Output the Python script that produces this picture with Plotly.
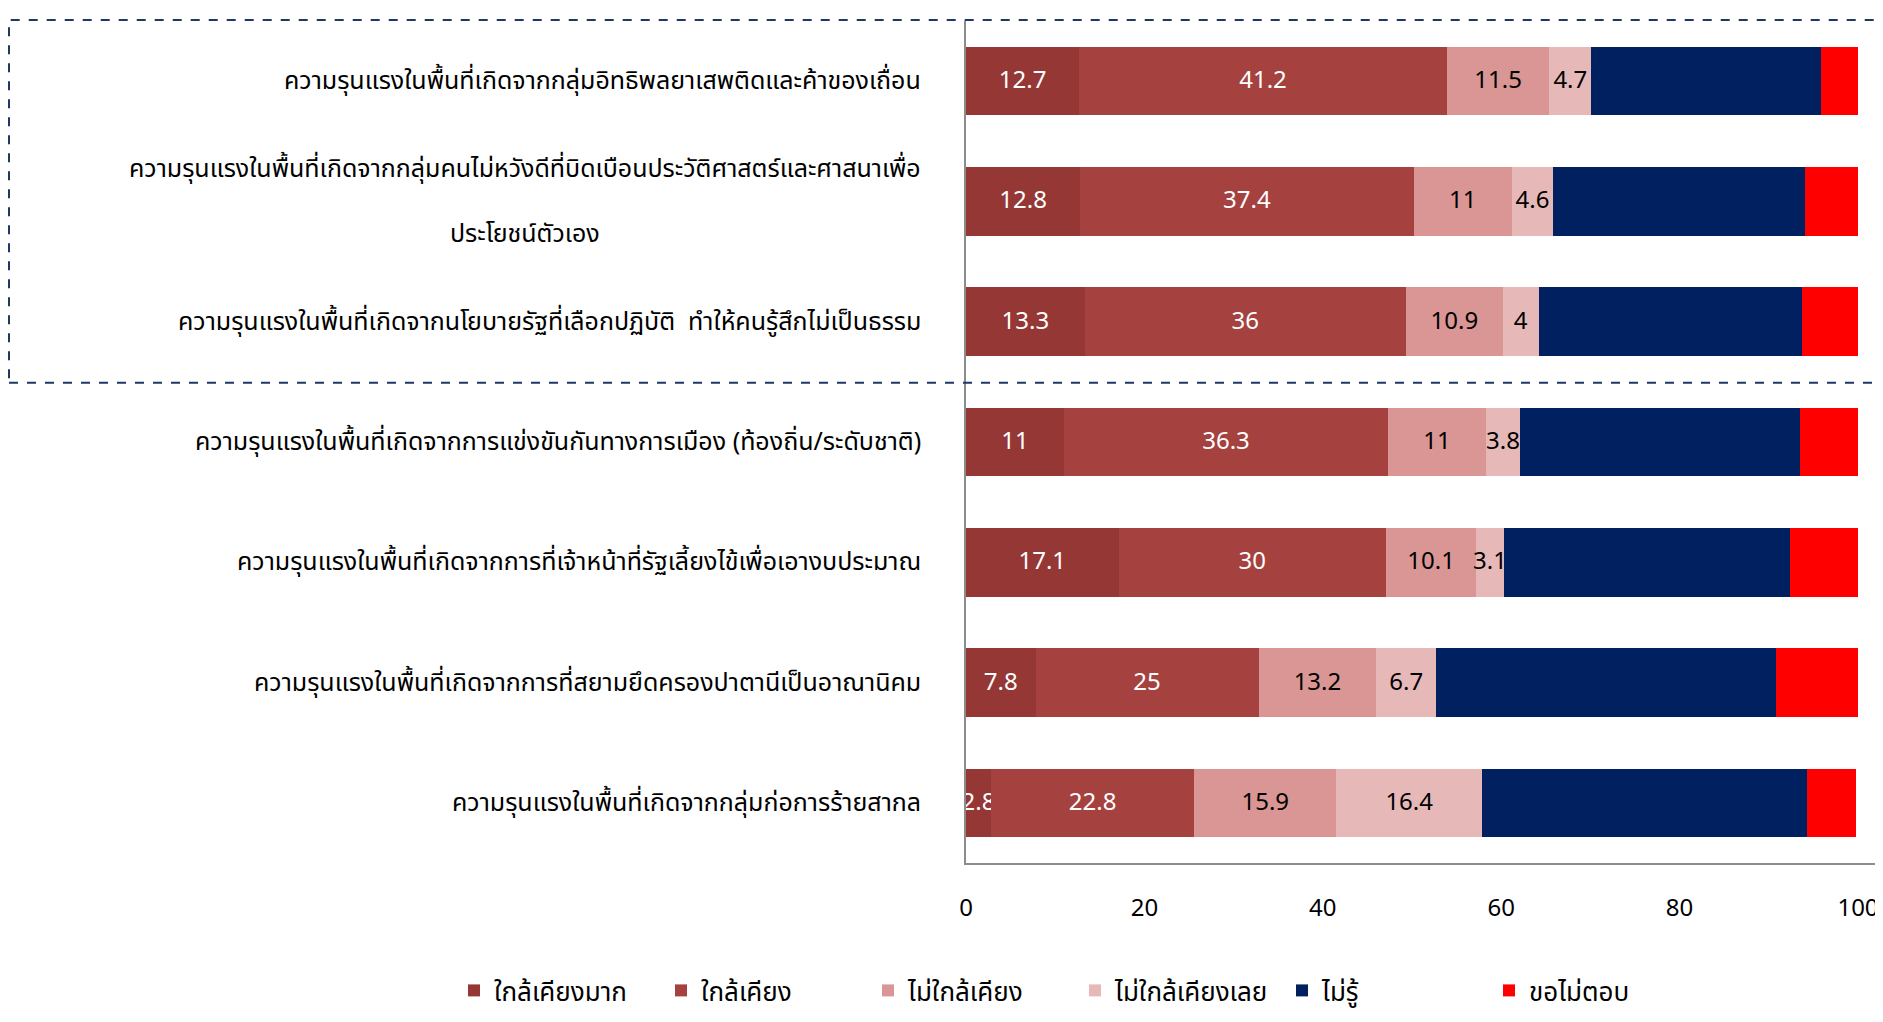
import plotly.graph_objects as go

categories = [
    "ความรุนแรงในพื้นที่เกิดจากกลุ่มอิทธิพลยาเสพติดและค้าของเถื่อน",
    "ความรุนแรงในพื้นที่เกิดจากกลุ่มคนไม่หวังดีที่บิดเบือนประวัติศาสตร์และศาสนาเพื่อ<br>ประโยชน์ตัวเอง",
    "ความรุนแรงในพื้นที่เกิดจากนโยบายรัฐที่เลือกปฏิบัติ  ทำให้คนรู้สึกไม่เป็นธรรม",
    "ความรุนแรงในพื้นที่เกิดจากการแข่งขันกันทางการเมือง (ท้องถิ่น/ระดับชาติ)",
    "ความรุนแรงในพื้นที่เกิดจากการที่เจ้าหน้าที่รัฐเลี้ยงไข้เพื่อเอางบประมาณ",
    "ความรุนแรงในพื้นที่เกิดจากการที่สยามยึดครองปาตานีเป็นอาณานิคม",
    "ความรุนแรงในพื้นที่เกิดจากกลุ่มก่อการร้ายสากล",
]

series_names = ["ใกล้เคียงมาก", "ใกล้เคียง", "ไม่ใกล้เคียง", "ไม่ใกล้เคียงเลย", "ไม่รู้", "ขอไม่ตอบ"]
very_close = [12.7, 12.8, 13.3, 11, 17.1, 7.8, 2.8]
close = [41.2, 37.4, 36, 36.3, 30, 25, 22.8]
not_close = [11.5, 11, 10.9, 11, 10.1, 13.2, 15.9]
not_close_at_all = [4.7, 4.6, 4, 3.8, 3.1, 6.7, 16.4]
dont_know = [25.7, 28.3, 29.5, 31.4, 32.1, 38.1, 36.4]
refuse = [4.2, 5.9, 6.3, 6.5, 7.6, 9.2, 5.5]

x_ticks = [0, 20, 40, 60, 80, 100]

colors = ["#953735", "#A5423F", "#D99694", "#E6B9B8", "#002060", "#FF0000"]
label_colors = ["white", "white", "black", "black", None, None]
series_values = [very_close, close, not_close, not_close_at_all, dont_know, refuse]

FONT = "Noto Sans Thai, Noto Sans, Tahoma, sans-serif"

# figure sits 8px inside the page (default body margin)
W, H = 1875, 1006
L, T, B = 958, 13, 148
PW = W - L
PH = H - T - B
X_MAX = 100 * PW / (1850 - L)

fig = go.Figure()
for name, vals, col, lc in zip(series_names, series_values, colors, label_colors):
    show_text = lc is not None
    fig.add_trace(go.Bar(
        y=categories, x=vals, name=name, orientation="h",
        marker=dict(color=col, line=dict(width=0)),
        text=[f"{v:g}" for v in vals] if show_text else None,
        textposition="inside" if show_text else "none",
        insidetextanchor="middle",
        textfont=dict(color=lc if lc else "white", size=24, family=FONT),
        hoverinfo="x+name",
    ))

# category labels as annotations (centre-aligned multi-line)
for c in categories:
    fig.add_annotation(
        x=0, xref="paper", y=c, yref="y", text=c.replace("<br>", "<br><br>"),
        showarrow=False, xanchor="right", yanchor="middle", align="center",
        xshift=-43,
        font=dict(size=25, color="black", family=FONT),
    )

# dashed highlight box
fig.add_shape(
    type="rect", xref="paper", yref="paper",
    x0=(1 - L) / PW, x1=(1868 - L) / PW,
    y0=(T + PH - 376) / PH, y1=(T + PH - 12) / PH,
    line=dict(color="#1F3864", width=2, dash="dash"),
    fillcolor="rgba(0,0,0,0)", layer="above",
)

fig.update_layout(
    barmode="stack",
    bargap=0.43,
    width=W, height=H,
    margin=dict(l=L, r=0, t=T, b=B, pad=0),
    paper_bgcolor="white", plot_bgcolor="white",
    font=dict(family=FONT, size=24, color="black"),
    uniformtext=dict(mode="show", minsize=24),
    showlegend=True,
    legend=dict(
        orientation="h", x=(446 - L) / PW, xanchor="left",
        y=(T + PH - 986) / PH, yanchor="middle",
        font=dict(size=26, family=FONT), traceorder="normal",
        entrywidth=162, entrywidthmode="pixels",
    ),
    xaxis=dict(
        range=[0, X_MAX], tickvals=x_ticks, showgrid=False, zeroline=False,
        showline=True, linecolor="#8C8C8C", linewidth=2,
        ticks="", ticklabelstandoff=22, ticklabeloverflow="allow",
        tickfont=dict(size=24, family=FONT),
    ),
    yaxis=dict(
        autorange="reversed", showticklabels=False, showgrid=False,
        showline=True, linecolor="#8C8C8C", linewidth=2, ticks="",
    ),
)

fig.write_html("out.html")
